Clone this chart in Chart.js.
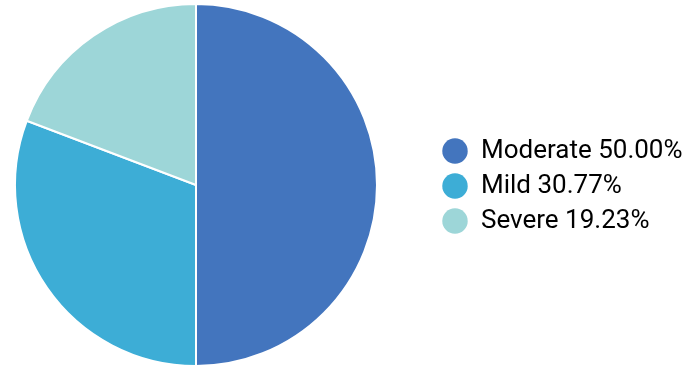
<!DOCTYPE html>
<html>
<head>
<meta charset="utf-8">
<script src="https://cdn.jsdelivr.net/npm/chart.js@4"></script>
<style>
  html, body { margin: 0; padding: 0; background: #fff; }
  #wrap { width: 696px; height: 367px; }
</style>
</head>
<body>
<div id="wrap"><canvas id="severityChart" width="696" height="367"></canvas></div>
<script>
const categories = ['Moderate', 'Mild', 'Severe'];
const percentages = [50.00, 30.77, 19.23];
const sliceColors = ['#4375BE', '#3DADD6', '#9DD6D8'];

// legend sits away from the pie, so reserve its space and then push it right
const LEGEND_BOX = 318;
const LEGEND_LEFT = 433;

const legendGap = {
    id: 'legendGap',
    beforeLayout(chart) {
        const lg = chart.legend;
        if (!lg || lg._gapPatched) return;
        const fit = lg.fit;
        lg.fit = function() {
            fit.call(this);
            this.width = Math.max(this.width, LEGEND_BOX);
        };
        lg._gapPatched = true;
    },
    afterLayout(chart) {
        if (chart.legend) {
            chart.legend.left = LEGEND_LEFT;
            chart.legend.top += 1;
            chart.legend.bottom += 1;
        }
    }
};

const ctx = document.getElementById('severityChart').getContext('2d');
const severityChart = new Chart(ctx, {
    type: 'pie',
    data: {
        labels: categories,
        datasets: [{
            data: percentages,
            backgroundColor: sliceColors,
            borderColor: '#ffffff',
            borderWidth: 2
        }]
    },
    options: {
        responsive: false,
        animation: false,
        layout: { padding: { left: 14, top: 3, bottom: 0, right: 0 } },
        plugins: {
            legend: {
                position: 'right',
                labels: {
                    usePointStyle: true,
                    pointStyle: 'circle',
                    boxHeight: 18,
                    padding: 9,
                    color: '#333333',
                    font: { family: 'Roboto', size: 26 },
                    generateLabels: function(chart) {
                        const ds = chart.data.datasets[0];
                        return chart.data.labels.map((label, i) => ({
                            text: label + ' ' + ds.data[i].toFixed(2) + '%',
                            fillStyle: ds.backgroundColor[i],
                            strokeStyle: ds.backgroundColor[i],
                            lineWidth: 0,
                            pointStyle: 'circle',
                            index: i
                        }));
                    }
                }
            },
            tooltip: { enabled: false }
        }
    },
    plugins: [legendGap]
});
</script>
</body>
</html>
